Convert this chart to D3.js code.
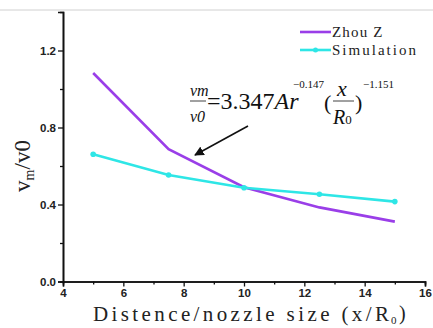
<!DOCTYPE html>
<html lang="en">
<head>
<meta charset="UTF-8">
<title>Velocity decay</title>
<script src="https://d3js.org/d3.v7.min.js"></script>
<style>
  body { margin: 0; background: #fff; }
  .tick text { font-family: Arial, "Liberation Sans", sans-serif; font-weight: bold; font-size: 11.5px; }
</style>
</head>
<body>
<svg id="chart" width="433" height="328"></svg>
<script>
// data
const distance = [5, 7.5, 10, 12.5, 15];
const zhouZ = [1.083, 0.687, 0.49, 0.385, 0.311];
const simulation = [0.661, 0.553, 0.487, 0.453, 0.415];
const xTicks = [4, 6, 8, 10, 12, 14, 16];
const xMinor = [5, 7, 9, 11, 13, 15];
const yTicks = [0.0, 0.4, 0.8, 1.2];
const yMinor = [0.2, 0.6, 1.0];

const svg = d3.select("#chart");
const serif = "'Liberation Serif', 'Times New Roman', serif";

const x = d3.scaleLinear().domain([4, 16]).range([63, 425]);
const y = d3.scaleLinear().domain([0, 1.4]).range([281.5, 12]);

// thin grey line across the top
svg.append("line")
    .attr("x1", 0).attr("x2", 433).attr("y1", 10).attr("y2", 10)
    .attr("stroke", "#d0d0d0").attr("stroke-width", 1);

// axes
svg.append("g").attr("transform", `translate(0,${y(0)})`)
    .call(d3.axisBottom(x).tickValues(xTicks).tickFormat(d3.format("d")).tickSize(5).tickPadding(2));
svg.append("g").attr("transform", `translate(0,${y(0)})`)
    .call(d3.axisBottom(x).tickValues(xMinor).tickFormat("").tickSize(3));
svg.append("g").attr("transform", `translate(${x(4)},0)`)
    .call(d3.axisLeft(y).tickValues(yTicks).tickFormat(d3.format(".1f")).tickSize(5).tickPadding(2));
svg.append("g").attr("transform", `translate(${x(4)},0)`)
    .call(d3.axisLeft(y).tickValues(yMinor).tickFormat("").tickSize(3));

svg.selectAll(".domain").attr("stroke", "#111").attr("stroke-width", 1.6);
svg.selectAll(".tick line").attr("stroke", "#111").attr("stroke-width", 1.3);
svg.selectAll(".tick text").attr("fill", "#222");

// axis titles
svg.append("text")
    .attr("x", 93).attr("y", 321)
    .attr("font-family", serif)
    .attr("font-size", 21)
    .attr("fill", "#222")
    .attr("textLength", 296).attr("lengthAdjust", "spacing")
    .text("Distence/nozzle size (x/R");
svg.append("text")
    .attr("x", 391).attr("y", 324)
    .attr("font-family", serif).attr("font-size", 11).attr("fill", "#222")
    .text("0");
svg.append("text")
    .attr("x", 399).attr("y", 320)
    .attr("font-family", serif).attr("font-size", 20).attr("fill", "#222")
    .text(")");

svg.append("text")
    .attr("transform", "translate(30,166) rotate(-90)")
    .attr("text-anchor", "middle")
    .attr("font-family", serif)
    .attr("font-size", 23)
    .attr("fill", "#222")
    .html('v<tspan font-size="14" dy="4">m</tspan><tspan dy="-4">/v0</tspan>');

// series
const series = [
  { name: "Zhou Z", values: zhouZ, color: "#9a3ee8", dots: false },
  { name: "Simulation", values: simulation, color: "#2ee6e6", dots: true }
];

const line = d3.line().x(d => x(d[0])).y(d => y(d[1]));

series.forEach(s => {
  const pts = distance.map((d, i) => [d, s.values[i]]);
  svg.append("path").datum(pts)
      .attr("d", line)
      .attr("fill", "none")
      .attr("stroke", s.color)
      .attr("stroke-width", 2.6);
  if (s.dots) {
    svg.selectAll(null).data(pts).join("circle")
        .attr("cx", d => x(d[0])).attr("cy", d => y(d[1]))
        .attr("r", 2.8).attr("fill", s.color);
  }
});

// legend
const legend = svg.append("g").attr("transform", "translate(300,32)");
series.forEach((s, i) => {
  const g = legend.append("g").attr("transform", `translate(0,${i * 18})`);
  g.append("line").attr("x1", 0).attr("x2", 31).attr("stroke", s.color).attr("stroke-width", 2.6);
  if (s.dots) g.append("circle").attr("cx", 15.5).attr("r", 2.5).attr("fill", s.color);
  g.append("text").attr("x", 32).attr("y", 5)
      .attr("font-family", serif)
      .attr("font-size", 15).attr("fill", "#222")
      .attr("textLength", s.name.length * 8.4).attr("lengthAdjust", "spacing")
      .text(s.name);
});

// formula annotation
const f = svg.append("g")
    .attr("font-family", serif)
    .attr("fill", "#111");
f.append("text").attr("x", 190).attr("y", 96).attr("font-size", 16).attr("font-style", "italic").text("vm");
f.append("line").attr("x1", 190).attr("x2", 206).attr("y1", 101).attr("y2", 101).attr("stroke", "#111").attr("stroke-width", 0.8);
f.append("text").attr("x", 190).attr("y", 122).attr("font-size", 16).attr("font-style", "italic").text("v0");
f.append("text").attr("x", 207).attr("y", 109).attr("font-size", 24)
    .html('=3.347<tspan font-style="italic">Ar</tspan>');
f.append("text").attr("x", 293).attr("y", 88).attr("font-size", 11).text("\u22120.147");
f.append("text").attr("x", 324).attr("y", 110).attr("font-size", 22).text("(");
f.append("text").attr("x", 337).attr("y", 96).attr("font-size", 22).attr("font-style", "italic").text("x");
f.append("line").attr("x1", 333).attr("x2", 354).attr("y1", 101).attr("y2", 101).attr("stroke", "#111").attr("stroke-width", 0.8);
f.append("text").attr("x", 333).attr("y", 124).attr("font-size", 20)
    .html('<tspan font-style="italic">R</tspan><tspan font-size="13">0</tspan>');
f.append("text").attr("x", 355).attr("y", 110).attr("font-size", 22).text(")");
f.append("text").attr("x", 363).attr("y", 88).attr("font-size", 11).text("\u22121.151");

// arrow
svg.append("defs").append("marker")
    .attr("id", "head").attr("viewBox", "0 0 10 10")
    .attr("refX", 9).attr("refY", 5)
    .attr("markerWidth", 6).attr("markerHeight", 6)
    .attr("orient", "auto")
  .append("path").attr("d", "M0,0L10,5L0,10Z").attr("fill", "#111");
svg.append("line")
    .attr("x1", 248).attr("y1", 126).attr("x2", 195).attr("y2", 155)
    .attr("stroke", "#111").attr("stroke-width", 1.6)
    .attr("marker-end", "url(#head)");
</script>
</body>
</html>
